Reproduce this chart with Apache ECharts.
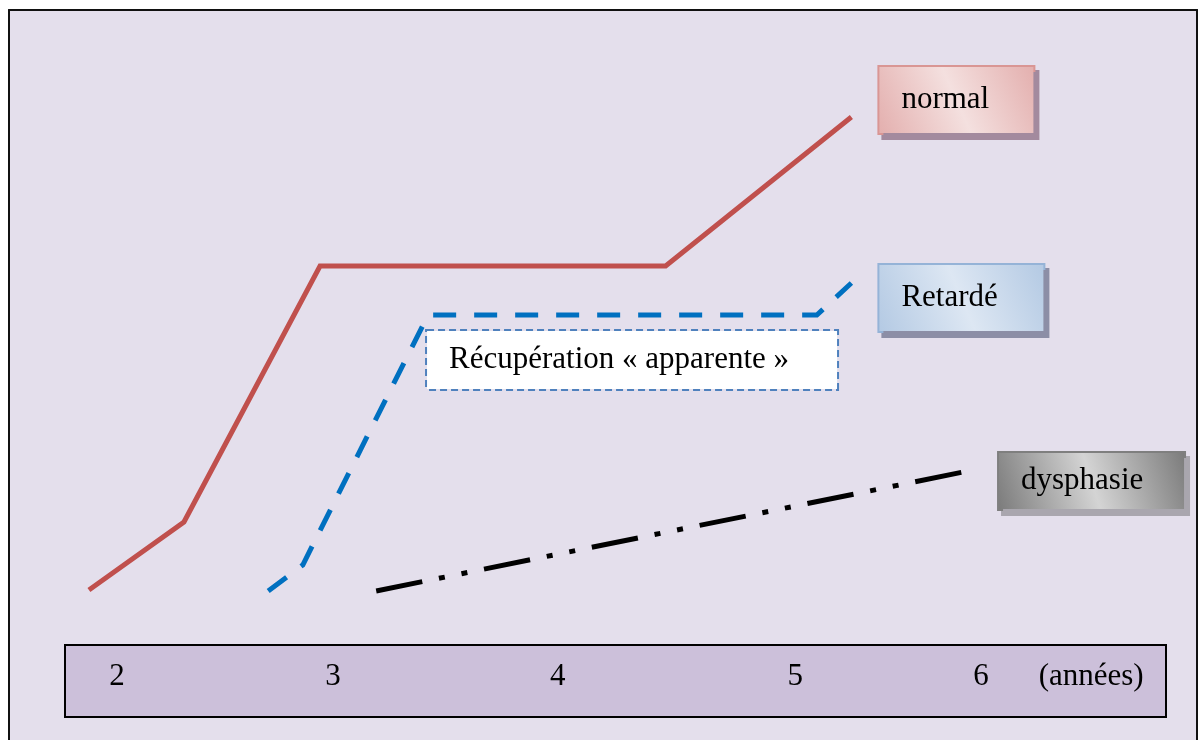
<!DOCTYPE html>
<html>
<head>
<meta charset="utf-8">
<title>Évolution du langage</title>
<script src="https://cdn.jsdelivr.net/npm/echarts@6/dist/echarts.min.js"></script>
<style>html,body{margin:0;padding:0;background:#fff;}</style>
</head>
<body>
<div id="main" style="width:1200px;height:740px;"></div>
<script>
var normalAge = [1.87, 2.31, 2.94, 4.54, 5.40];
var normalLevel = [16.0, 22.8, 48.4, 48.4, 63.3];

var retardAge = [2.70, 2.86, 3.44, 5.24, 5.40];
var retardLevel = [15.9, 18.5, 43.5, 43.5, 46.7];

var dysAge = [3.20, 5.94];
var dysLevel = [15.9, 27.9];

// graduation de la bande des âges
var ageTicks = [2, 3, 4.04, 5.14, 6, 6.51];
var ageTickLabels = ['2', '3', '4', '5', '6', '(années)'];

var serif = 'Liberation Serif';

function pairs(xs, ys) {
    return xs.map(function (x, i) { return [x, ys[i]]; });
}

function shade(dark, light) {
    return {
        type: 'linear', x: 0, y: 1, x2: 1, y2: 0,
        colorStops: [
            { offset: 0, color: dark },
            { offset: 0.5, color: light },
            { offset: 1, color: dark }
        ]
    };
}

function boxLabel(text, w, pad, fill, border, shadow, offset) {
    return {
        show: true,
        formatter: text,
        distance: 0,
        offset: offset,
        align: 'left',
        verticalAlign: 'middle',
        fontFamily: serif,
        fontSize: 31,
        lineHeight: 34,
        color: '#000',
        width: w,
        padding: pad,
        backgroundColor: fill,
        borderColor: border,
        borderWidth: 2,
        shadowColor: shadow,
        shadowBlur: 0,
        shadowOffsetX: 4,
        shadowOffsetY: 5
    };
}

// trait du cadre (haut, gauche, droite ; le bas sort de l'image)
var frameLine = {
    show: true,
    onZero: false,
    lineStyle: { color: '#111', width: 2 }
};

var myChart = echarts.init(document.getElementById('main'));

var option = {
    animation: false,
    backgroundColor: '#fff',
    grid: [
        { left: 9, right: 3, top: 10, bottom: 0, show: true,
          backgroundColor: '#E4DFEC', borderWidth: 0 },
        { left: 65, right: 34, top: 645, height: 72, show: true,
          backgroundColor: '#CCC0DA', borderColor: '#000', borderWidth: 2 }
    ],
    xAxis: [
        { gridIndex: 0, type: 'value', min: 1.5, max: 7.0, position: 'top',
          axisLine: frameLine, axisTick: { show: false },
          axisLabel: { show: false }, splitLine: { show: false } },
        { gridIndex: 1, type: 'value', min: 1.7593, max: 6.8565,
          axisLine: { show: false }, axisTick: { show: false }, splitLine: { show: false },
          axisLabel: {
              inside: true,
              margin: 40,
              verticalAlign: 'middle',
              customValues: ageTicks,
              formatter: function (v) {
                  var i = ageTicks.indexOf(v);
                  return i >= 0 ? ageTickLabels[i] : '';
              },
              fontFamily: serif,
              fontSize: 31,
              color: '#000'
          } }
    ],
    yAxis: [
        { gridIndex: 0, type: 'value', min: 1, max: 74, position: 'left',
          axisLine: frameLine, axisTick: { show: false },
          axisLabel: { show: false }, splitLine: { show: false } },
        { gridIndex: 0, type: 'value', min: 1, max: 74, position: 'right',
          axisLine: frameLine, axisTick: { show: false },
          axisLabel: { show: false }, splitLine: { show: false } },
        { gridIndex: 1, type: 'value', min: 0, max: 1, show: false }
    ],
    series: [
        {
            name: 'normal',
            type: 'line',
            xAxisIndex: 0, yAxisIndex: 0,
            data: pairs(normalAge, normalLevel),
            showSymbol: false,
            symbol: 'none',
            silent: true,
            lineStyle: { color: '#C0504D', width: 5, join: 'miter' },
            endLabel: boxLabel('normal', 110, [16, 22, 16, 22],
                shade('#E3AEAD', '#F4E0DF'), '#D99694', '#A38A9E', [28, -17])
        },
        {
            name: 'Retardé',
            type: 'line',
            xAxisIndex: 0, yAxisIndex: 0,
            data: pairs(retardAge, retardLevel),
            showSymbol: false,
            symbol: 'none',
            silent: true,
            lineStyle: { color: '#0070C0', width: 5, type: [23, 18], join: 'miter' },
            endLabel: boxLabel('Retardé', 120, [16, 22, 16, 22],
                shade('#B3C9E3', '#DDE7F3'), '#95B3D7', '#8C8EA6', [28, 15]),
            markPoint: {
                symbol: 'circle',
                symbolSize: 0,
                silent: true,
                data: [{
                    coord: [retardAge[2], retardLevel[2]],
                    label: {
                        show: true,
                        formatter: 'Récupération « apparente »',
                        position: 'inside',
                        align: 'left',
                        verticalAlign: 'top',
                        offset: [-1, 16],
                        fontFamily: serif,
                        fontSize: 31,
                        lineHeight: 34,
                        color: '#000',
                        width: 366,
                        padding: [12, 22, 12, 22],
                        backgroundColor: '#fff',
                        borderColor: '#4F81BD',
                        borderWidth: 2,
                        borderType: [7, 4]
                    }
                }]
            }
        },
        {
            name: 'dysphasie',
            type: 'line',
            xAxisIndex: 0, yAxisIndex: 0,
            data: pairs(dysAge, dysLevel),
            showSymbol: false,
            symbol: 'none',
            silent: true,
            lineStyle: { color: '#000', width: 5, type: [47, 17, 6, 17, 6, 17] },
            endLabel: boxLabel('dysphasie', 141, [11, 22, 11, 22],
                shade('#7A7A7A', '#D4D4D4'), '#7F7F7F', '#A9A6AE', [31, 10])
        }
    ]
};

myChart.setOption(option);
</script>
</body>
</html>
